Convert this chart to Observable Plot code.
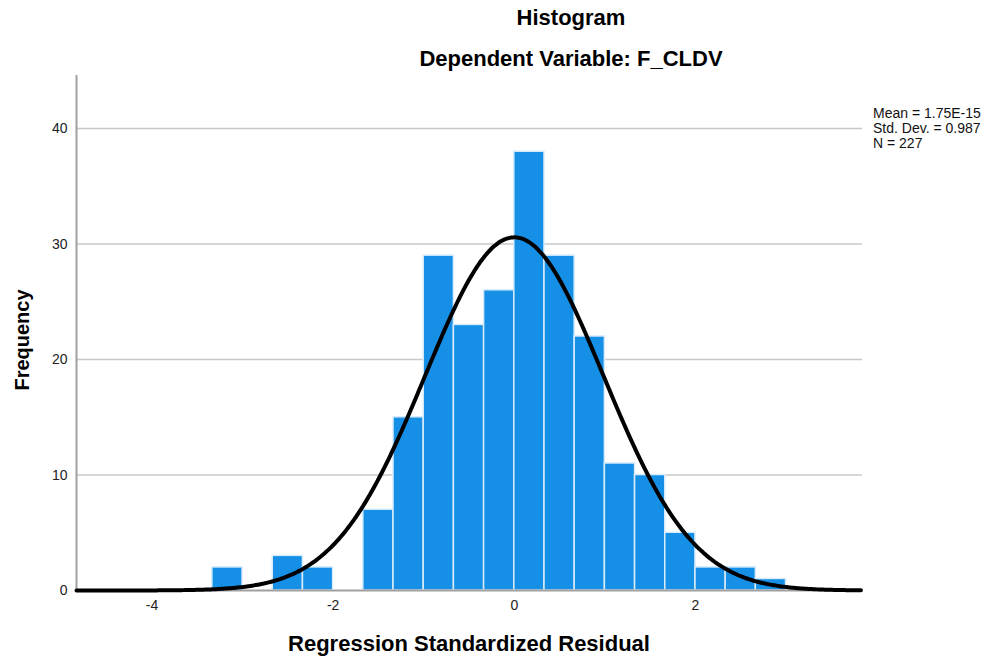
<!DOCTYPE html>
<html><head><meta charset="utf-8">
<script src="https://cdn.jsdelivr.net/npm/d3@7"></script>
<script src="https://cdn.jsdelivr.net/npm/@observablehq/plot@0.6"></script>
<style>
body{margin:0;background:#fff;font-family:"Liberation Sans",Arial,sans-serif;}
#wrap{position:relative;width:996px;height:664px;}
.t{position:absolute;white-space:nowrap;color:#000;}
</style></head>
<body><div id="wrap"></div>
<script>
// bin edges (in units of 1/3) and counts
const binStarts = [-10,-9,-8,-7,-6,-5,-4,-3,-2,-1,0,1,2,3,4,5,6,7,8];
const counts    = [ 2, 0, 3, 2, 0, 7,15,29,23,26,38,29,22,11,10, 5, 2, 2, 1];
const binWidth = 1/3;
const mean = 1.75e-15, sd = 0.987, n = 227;
const xTicks = [-4,-2,0,2];
const yTicks = [0,10,20,30,40];
const legendLines = ["Mean = 1.75E-15","Std. Dev. = 0.987","N = 227"];

const bars = binStarts.map((k,i)=>({x1:k*binWidth, x2:(k+1)*binWidth, y:counts[i]})).filter(d=>d.y>0);
const xDomain = [-4.833, 3.844];
const curve = d3.range(xDomain[0], xDomain[1]+0.001, 0.02).map(x=>({x, y: n*binWidth/(sd*Math.sqrt(2*Math.PI))*Math.exp(-0.5*((x-mean)/sd)**2)}));
const fmt = d => String(d);

const chart = Plot.plot({
  width:996, height:664,
  marginLeft:76, marginRight:134, marginTop:75, marginBottom:74,
  style:{fontFamily:"Liberation Sans, Arial, sans-serif", fontSize:"14px", color:"#333"},
  x:{domain:xDomain, label:null},
  y:{domain:[0,44.6], label:null},
  marks:[
    Plot.ruleY(yTicks.filter(d=>d>0), {stroke:"#c8c8c8", strokeWidth:1.5}),
    Plot.rectY(bars, {x1:"x1", x2:"x2", y:"y", fill:"#1590e6", stroke:"#d9ecfb", strokeWidth:1.5}),
    Plot.ruleY([0], {stroke:"#a0a0a0", strokeWidth:2}),
    Plot.ruleX([xDomain[0]], {stroke:"#a0a0a0", strokeWidth:2}),
    Plot.line(curve, {x:"x", y:"y", stroke:"#000", strokeWidth:4, curve:"basis"}),
    Plot.axisX({ticks:xTicks, tickFormat:fmt, tickSize:0, tickPadding:10, label:null, fontSize:14, fill:"#222"}),
    Plot.axisY({ticks:yTicks, tickFormat:fmt, tickSize:0, tickPadding:9, label:null, fontSize:14, fill:"#222"})
  ]
});
const wrap = document.getElementById("wrap");
wrap.appendChild(chart);
function addText(txt, css){const d=document.createElement("div");d.className="t";d.textContent=txt;Object.assign(d.style,css);wrap.appendChild(d);return d;}
addText("Histogram",{left:"571px",top:"5px",transform:"translateX(-50%)",fontSize:"22px",fontWeight:"bold"});
addText("Dependent Variable: F_CLDV",{left:"571px",top:"46px",transform:"translateX(-50%)",fontSize:"22px",fontWeight:"bold"});
addText("Regression Standardized Residual",{left:"469px",top:"631px",transform:"translateX(-50%)",fontSize:"22px",fontWeight:"bold"});
addText("Frequency",{left:"22px",top:"340px",transform:"translate(-50%,-50%) rotate(-90deg)",fontSize:"20px",fontWeight:"bold"});
legendLines.forEach((l,i)=>addText(l,{left:"873px",top:(106+i*15)+"px",fontSize:"14px",lineHeight:"15px",color:"#111"}));
</script></body></html>
